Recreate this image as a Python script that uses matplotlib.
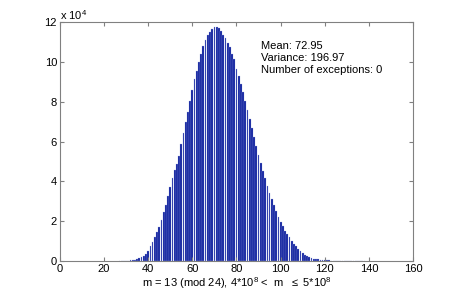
import numpy as np
import matplotlib
matplotlib.use('Agg')
import matplotlib.pyplot as plt

# bar heights, one per integer value of x
bins = list(range(27, 139))
counts = [50, 80, 100, 150, 250, 450, 500, 750, 1050, 1400, 1800, 2500,
          3600, 4900, 7400, 9800, 12000, 14500, 17000, 20600, 24500, 28300,
          32600, 37000, 41500, 45700, 48500, 53000, 58700, 64100, 69800,
          75000, 80500, 85800, 91200, 95600, 100100, 104200, 108100, 110900,
          113500, 115100, 116300, 117300, 117300, 116800, 115600, 113500,
          111800, 109600, 107600, 104200, 101200, 96200, 92900, 88900, 85000,
          80300, 75800, 71100, 66600, 62100, 57700, 53200, 49000, 45400,
          41500, 37800, 34300, 31100, 28100, 25300, 22300, 19700, 17600,
          15200, 13400, 11900, 10200, 8500, 7500, 6200, 5000, 4000, 3000,
          2500, 1800, 1300, 1100, 800, 800, 700, 500, 450, 400, 300, 250,
          200, 150, 120, 100, 80, 60, 50, 40, 30, 25, 20, 15, 12, 10, 8]

stats_text = 'Mean: 72.95\nVariance: 196.97\nNumber of exceptions: 0'
x_label = r'm = 13 (mod 24), 4*10$^8$ <  m  $\leq$ 5*10$^8$'

plt.rcParams['font.family'] = ['Liberation Sans', 'DejaVu Sans']
plt.rcParams['mathtext.fontset'] = 'custom'
plt.rcParams['mathtext.rm'] = 'Liberation Sans'

fig = plt.figure(figsize=(4.57, 2.94), dpi=100)
ax = fig.add_axes([0.131, 0.112, 0.773, 0.813])

# MATLAB-like hist bars
ax.bar(bins, counts, width=0.8, color='#0b1c9c', edgecolor='#a0aade',
       linewidth=0.2)

ax.set_xlim(0, 160)
ax.set_ylim(0, 120000)
ax.set_xticks(np.arange(0, 161, 20))
ax.set_yticks(np.arange(0, 120001, 20000))
ax.set_yticklabels([str(int(t / 10000)) for t in np.arange(0, 120001, 20000)])

for s in ax.spines.values():
    s.set_color('#808080')
    s.set_linewidth(0.8)
ax.tick_params(direction='in', length=3, color='#808080', labelsize=8,
               top=True, right=True, pad=2)

ax.text(0.0, 1.0, r'x 10$^4$', transform=ax.transAxes, ha='left',
        va='bottom', fontsize=8)
ax.text(91, 110400, stats_text, ha='left', va='top', fontsize=8,
        linespacing=1.22)
ax.set_xlabel(x_label, fontsize=8, labelpad=1)

fig.savefig('out.png', dpi=100)
